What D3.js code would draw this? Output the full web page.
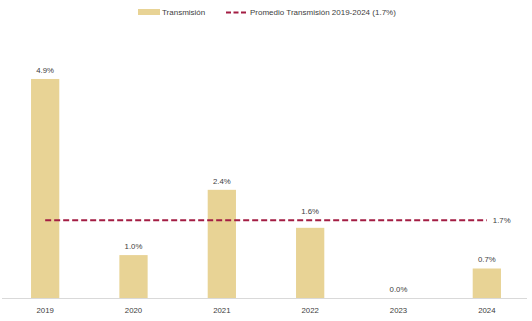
<!DOCTYPE html>
<html><head><meta charset="utf-8">
<script src="https://cdn.jsdelivr.net/npm/d3@7"></script>
<style>body{margin:0;background:#fff}svg{display:block}text{font-family:"Liberation Sans",Arial,sans-serif;fill:#404040}</style>
</head><body><svg id="c" width="532" height="321"></svg>
<script>
const years = ["2019","2020","2021","2022","2023","2024"];
const transmision = [4.9, 0.96, 2.42, 1.57, 0.0, 0.66];
const promedio = 1.74;
const seriesName = "Transmisión";
const avgName = "Promedio Transmisión 2019-2024 (1.7%)";

const svg = d3.select("#c");
const x = d3.scaleBand().domain(years).range([1, 531]).paddingInner(0.68).paddingOuter(0.34);
const y = d3.scaleLinear().domain([0, 5]).range([298, 298 - 5 * 44.7]);
const fmt = d => d3.format(".1f")(d) + "%";
const fs = 7.8;

svg.append("line").attr("x1", 2).attr("x2", 527).attr("y1", y(0) + 0.5).attr("y2", y(0) + 0.5)
  .attr("stroke", "#d9d9d9").attr("stroke-width", 1);

svg.selectAll("rect.bar").data(years).join("rect").attr("class", "bar")
  .attr("x", d => x(d)).attr("width", x.bandwidth())
  .attr("y", (d, i) => y(transmision[i])).attr("height", (d, i) => y(0) - y(transmision[i]))
  .attr("fill", "#E8D395");

// bar labels; if a label would sit on the average line, lift it above the line
const avgY = y(promedio);
svg.selectAll("text.lbl").data(years).join("text").attr("class", "lbl")
  .attr("x", d => x(d) + x.bandwidth() / 2)
  .attr("y", (d, i) => {
    let ly = y(transmision[i]) - 6;
    if (ly > avgY - 6 && ly - 8 < avgY + 2) ly = avgY - 6;
    return ly;
  })
  .attr("text-anchor", "middle").attr("font-size", fs)
  .text((d, i) => fmt(transmision[i]));

svg.selectAll("text.yr").data(years).join("text").attr("class", "yr")
  .attr("x", d => x(d) + x.bandwidth() / 2).attr("y", 313)
  .attr("text-anchor", "middle").attr("font-size", fs).text(d => d);

const xs = x(years[0]) + x.bandwidth() / 2, xe = x(years[years.length - 1]) + x.bandwidth() / 2;
svg.append("line").attr("x1", xs).attr("x2", xe).attr("y1", avgY).attr("y2", avgY)
  .attr("stroke", "#A31D43").attr("stroke-width", 2).attr("stroke-dasharray", "6,3");
svg.append("text").attr("x", xe + 6).attr("y", avgY + 3).attr("font-size", fs).text(fmt(promedio));

const lg = svg.append("g");
lg.append("rect").attr("x", 138).attr("y", 9).attr("width", 22).attr("height", 6).attr("fill", "#E8D395");
lg.append("text").attr("x", 162).attr("y", 15).attr("font-size", 8).text(seriesName);
lg.append("line").attr("x1", 226).attr("x2", 247).attr("y1", 12.5).attr("y2", 12.5)
  .attr("stroke", "#A31D43").attr("stroke-width", 2).attr("stroke-dasharray", "5,2.5");
lg.append("text").attr("x", 250).attr("y", 15).attr("font-size", 8).text(avgName);
</script></body></html>
